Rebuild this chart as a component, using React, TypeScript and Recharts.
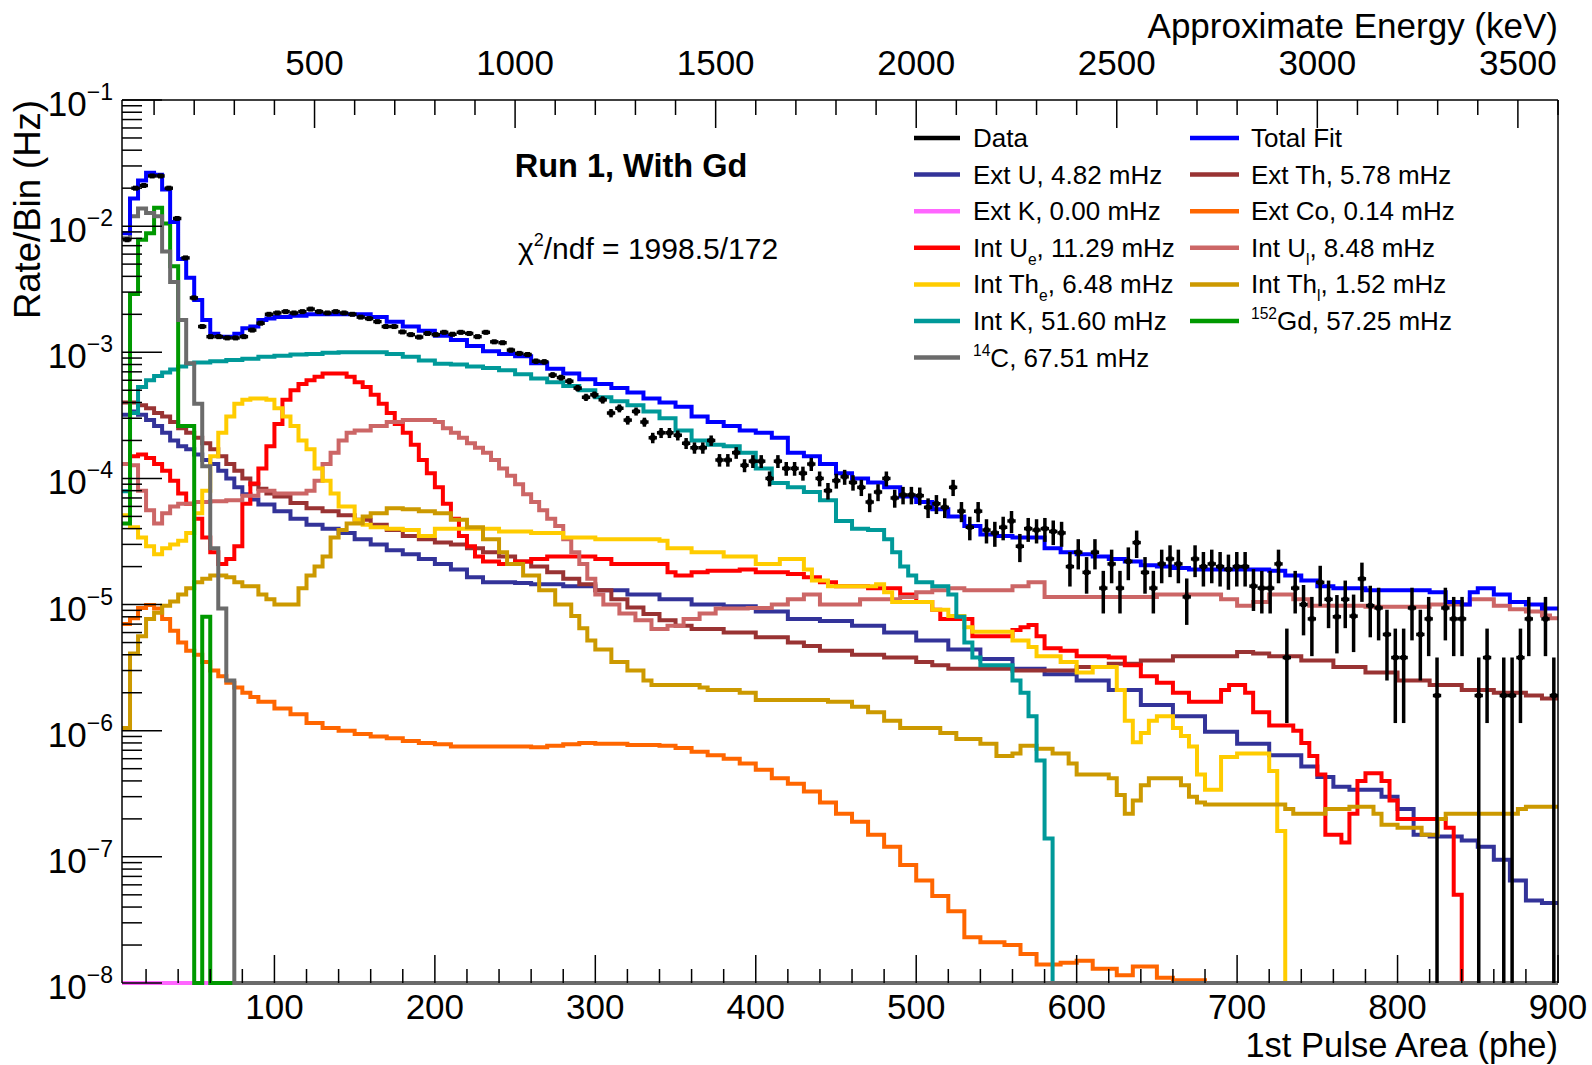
import React from 'react';
import { ComposedChart, Line, Scatter, XAxis, YAxis, ErrorBar, ReferenceLine } from 'recharts';

const FONT = '"Liberation Sans", Arial, Helvetica, sans-serif';
const W = 1592;
const H = 1065;
const FLOOR = 1e-8; // empty bins sit on the bottom of the log axis
const X_MIN = 5;
const X_MAX = 900;
const KEV_PER_PHE = 4;
// data binning: 172 bins of 5.2 phe starting at 5.6 phe
const DATA_BIN_LO = 5.6;
const DATA_BIN_W = 5.2;

// axis ticks
const PHE_LABELS = [100, 200, 300, 400, 500, 600, 700, 800, 900];
const KEV_LABELS = [500, 1000, 1500, 2000, 2500, 3000, 3500];
const RATE_DECADES = [1e-8, 1e-7, 1e-6, 1e-5, 1e-4, 1e-3, 1e-2, 1e-1];

// histogram contents, [bin start (phe), rate (Hz)]
const TOTAL_FIT: [number, number][] = [
  [5, 8.8e-3], [10, 1.66e-2], [15, 2.3e-2], [20, 2.65e-2], [25, 2.55e-2], [30, 1.95e-2], [35, 1.08e-2],
  [40, 5.5e-3], [45, 3.9e-3], [50, 2.6e-3], [55, 1.8e-3], [60, 1.4e-3], [65, 1.33e-3], [70, 1.33e-3],
  [75, 1.4e-3], [80, 1.55e-3], [85, 1.6e-3], [90, 1.8e-3], [95, 1.85e-3], [100, 1.9e-3], [110, 1.95e-3],
  [120, 2.0e-3], [150, 2.0e-3], [160, 1.9e-3], [170, 1.75e-3], [180, 1.6e-3], [190, 1.48e-3], [200, 1.35e-3],
  [210, 1.25e-3], [220, 1.12e-3], [230, 1.02e-3], [240, 9.7e-4], [250, 9.3e-4], [260, 8.2e-4], [270, 7.4e-4],
  [280, 6.8e-4], [290, 6.1e-4], [300, 5.6e-4], [310, 5.2e-4], [320, 4.8e-4], [330, 4.3e-4], [340, 4.0e-4],
  [350, 3.7e-4], [360, 3.1e-4], [370, 2.8e-4], [380, 2.6e-4], [390, 2.4e-4], [400, 2.3e-4], [410, 2.1e-4],
  [420, 1.6e-4], [430, 1.5e-4], [440, 1.3e-4], [450, 1.1e-4], [460, 1.0e-4], [470, 9.3e-5], [480, 8.5e-5],
  [490, 7.2e-5], [500, 6.5e-5], [510, 5.7e-5], [520, 5.0e-5], [530, 4.2e-5], [540, 3.6e-5], [550, 3.5e-5],
  [560, 3.4e-5], [580, 2.8e-5], [590, 2.6e-5], [600, 2.5e-5], [610, 2.4e-5], [620, 2.3e-5], [630, 2.2e-5],
  [640, 2.05e-5], [650, 2.0e-5], [660, 1.95e-5], [670, 1.9e-5], [720, 1.85e-5], [730, 1.7e-5], [740, 1.55e-5],
  [750, 1.4e-5], [760, 1.35e-5], [780, 1.3e-5], [820, 1.25e-5], [830, 1.05e-5], [840, 1.0e-5], [845, 1.25e-5],
  [850, 1.35e-5], [860, 1.2e-5], [870, 1.05e-5], [880, 1.0e-5], [890, 9.3e-6],
];

const EXT_U: [number, number][] = [
  [5, 3.2e-4], [10, 3.4e-4], [15, 3.2e-4], [20, 2.9e-4], [25, 2.6e-4], [30, 2.3e-4], [35, 2.0e-4], [40, 1.8e-4],
  [45, 1.7e-4], [50, 1.55e-4], [55, 1.4e-4], [60, 1.3e-4], [65, 1.15e-4], [70, 1.0e-4], [75, 8.5e-5], [80, 7.5e-5],
  [85, 6.8e-5], [90, 6.2e-5], [100, 5.5e-5], [110, 4.8e-5], [120, 4.3e-5], [130, 4.0e-5], [140, 3.7e-5],
  [150, 3.3e-5], [160, 3.0e-5], [170, 2.7e-5], [180, 2.5e-5], [190, 2.3e-5], [200, 2.1e-5], [210, 1.9e-5],
  [220, 1.65e-5], [230, 1.5e-5], [250, 1.48e-5], [260, 1.45e-5], [280, 1.4e-5], [300, 1.3e-5], [320, 1.2e-5],
  [340, 1.1e-5], [360, 1.0e-5], [380, 9.7e-6], [400, 8.8e-6], [420, 7.7e-6], [440, 7.4e-6], [460, 6.8e-6],
  [480, 6.0e-6], [500, 5.2e-6], [520, 4.4e-6], [540, 3.7e-6], [560, 3.1e-6], [580, 2.8e-6], [600, 2.5e-6],
  [620, 2.1e-6], [640, 1.6e-6], [660, 1.3e-6], [680, 9.8e-7], [700, 7.9e-7], [720, 6.4e-7], [740, 5.2e-7],
  [750, 4.3e-7], [760, 3.6e-7], [770, 3.4e-7], [790, 3.0e-7], [800, 2.4e-7], [810, 1.5e-7], [820, 1.45e-7],
  [840, 1.35e-7], [850, 1.2e-7], [860, 9.5e-8], [870, 6.5e-8], [880, 4.5e-8], [890, 4.3e-8],
];

const EXT_TH: [number, number][] = [
  [5, 4.0e-4], [15, 3.8e-4], [20, 3.6e-4], [25, 3.3e-4], [30, 3.1e-4], [35, 2.8e-4], [40, 2.5e-4], [45, 2.3e-4],
  [50, 2.1e-4], [55, 1.9e-4], [60, 1.7e-4], [65, 1.5e-4], [70, 1.3e-4], [75, 1.15e-4], [80, 1.0e-4], [85, 9.0e-5],
  [90, 8.3e-5], [95, 7.6e-5], [100, 7.2e-5], [110, 6.4e-5], [120, 5.8e-5], [130, 5.5e-5], [140, 5.1e-5],
  [150, 4.7e-5], [160, 4.3e-5], [170, 3.9e-5], [180, 3.5e-5], [190, 3.3e-5], [200, 3.1e-5], [210, 3.0e-5],
  [220, 2.8e-5], [230, 2.6e-5], [240, 2.4e-5], [250, 2.2e-5], [260, 2.0e-5], [270, 1.8e-5], [280, 1.6e-5],
  [290, 1.45e-5], [300, 1.3e-5], [310, 1.1e-5], [320, 9.5e-6], [330, 8.4e-6], [340, 7.5e-6], [350, 6.8e-6],
  [360, 6.4e-6], [380, 6.0e-6], [400, 5.5e-6], [420, 5.0e-6], [430, 4.7e-6], [440, 4.3e-6], [460, 4.0e-6],
  [480, 3.8e-6], [500, 3.5e-6], [510, 3.3e-6], [520, 3.1e-6], [560, 3.0e-6], [600, 3.2e-6], [620, 3.4e-6],
  [640, 3.6e-6], [660, 3.9e-6], [700, 4.2e-6], [710, 4.1e-6], [720, 3.9e-6], [740, 3.6e-6], [760, 3.2e-6],
  [780, 2.9e-6], [800, 2.5e-6], [820, 2.3e-6], [840, 2.1e-6], [860, 2.0e-6], [880, 1.9e-6], [890, 1.8e-6],
];

const EXT_K: [number, number][] = [[5, FLOOR]];

const EXT_CO: [number, number][] = [
  [5, 7.0e-6], [10, 7.8e-6], [15, 9.4e-6], [20, 9.9e-6], [25, 9.3e-6], [30, 7.7e-6], [35, 6.2e-6], [40, 5.0e-6],
  [45, 4.3e-6], [50, 4.0e-6], [55, 3.5e-6], [60, 3.0e-6], [65, 2.7e-6], [70, 2.4e-6], [75, 2.2e-6], [80, 2.0e-6],
  [85, 1.85e-6], [90, 1.7e-6], [100, 1.5e-6], [110, 1.35e-6], [120, 1.15e-6], [130, 1.05e-6], [140, 1.0e-6],
  [150, 9.4e-7], [160, 9.0e-7], [170, 8.7e-7], [180, 8.3e-7], [190, 8.0e-7], [200, 7.8e-7], [210, 7.5e-7],
  [260, 7.4e-7], [270, 7.6e-7], [280, 7.8e-7], [290, 8.0e-7], [300, 7.9e-7], [320, 7.7e-7], [340, 7.6e-7],
  [350, 7.3e-7], [360, 6.8e-7], [370, 6.4e-7], [380, 6.0e-7], [390, 5.5e-7], [400, 4.9e-7], [410, 4.2e-7],
  [420, 3.8e-7], [430, 3.3e-7], [440, 2.7e-7], [450, 2.2e-7], [460, 1.9e-7], [470, 1.5e-7], [480, 1.2e-7],
  [490, 8.6e-8], [500, 6.5e-8], [510, 4.9e-8], [520, 3.7e-8], [530, 2.3e-8], [540, 2.1e-8], [555, 2.0e-8],
  [565, 1.7e-8], [575, 1.4e-8], [590, 1.45e-8], [600, 1.5e-8], [610, 1.3e-8], [625, 1.15e-8], [635, 1.35e-8],
  [650, 1.1e-8], [660, 1.05e-8], [680, 1.0e-8], [690, FLOOR],
];

const INT_U_E: [number, number][] = [
  [5, 1.3e-4], [10, 1.5e-4], [15, 1.55e-4], [20, 1.45e-4], [25, 1.3e-4], [30, 1.15e-4], [35, 9.6e-5], [40, 7.6e-5],
  [45, 6.3e-5], [50, 4.8e-5], [55, 3.4e-5], [60, 2.6e-5], [65, 2.1e-5], [70, 2.3e-5], [75, 2.9e-5], [80, 6.3e-5],
  [85, 9.1e-5], [90, 1.2e-4], [95, 1.8e-4], [100, 2.7e-4], [105, 4.2e-4], [110, 5.0e-4], [115, 5.6e-4],
  [120, 6.0e-4], [125, 6.4e-4], [130, 6.8e-4], [145, 6.4e-4], [150, 5.8e-4], [155, 5.3e-4], [160, 4.6e-4],
  [165, 3.9e-4], [170, 3.3e-4], [175, 2.7e-4], [180, 2.3e-4], [185, 1.85e-4], [190, 1.4e-4], [195, 1.1e-4],
  [200, 8.5e-5], [205, 6.3e-5], [210, 4.8e-5], [215, 3.5e-5], [220, 2.9e-5], [225, 2.4e-5], [230, 2.2e-5],
  [240, 2.1e-5], [250, 2.2e-5], [260, 2.3e-5], [270, 2.4e-5], [300, 2.3e-5], [310, 2.1e-5], [345, 1.8e-5],
  [350, 1.7e-5], [360, 1.8e-5], [370, 1.85e-5], [390, 1.9e-5], [400, 1.8e-5], [420, 1.75e-5], [430, 1.65e-5],
  [440, 1.5e-5], [450, 1.4e-5], [470, 1.35e-5], [490, 1.2e-5], [500, 1.05e-5], [510, 9.1e-6], [515, 7.7e-6],
  [535, 5.6e-6], [560, 6.3e-6], [565, 6.6e-6], [570, 6.9e-6], [575, 5.6e-6], [580, 4.5e-6], [590, 4.3e-6],
  [600, 3.9e-6], [620, 3.8e-6], [630, 3.3e-6], [640, 2.7e-6], [650, 2.4e-6], [660, 2.0e-6], [670, 1.7e-6],
  [690, 2.1e-6], [695, 2.3e-6], [705, 2.0e-6], [710, 1.4e-6], [720, 1.1e-6], [735, 1.0e-6], [740, 8.0e-7],
  [745, 6.3e-7], [750, 4.5e-7], [755, 1.5e-7], [765, 1.3e-7], [770, 2.2e-7], [775, 4.0e-7], [780, 4.6e-7],
  [790, 4.0e-7], [795, 2.8e-7], [800, 2.0e-7], [830, 1.7e-7], [835, 5.0e-8], [840, FLOOR],
];

const INT_U_L: [number, number][] = [
  [5, 1.3e-4], [10, 1.27e-4], [15, 8.0e-5], [20, 5.6e-5], [25, 4.4e-5], [30, 5.3e-5], [35, 6.0e-5], [40, 6.3e-5],
  [50, 6.5e-5], [60, 6.6e-5], [70, 6.7e-5], [80, 7.3e-5], [90, 8.0e-5], [100, 7.6e-5], [120, 8.0e-5],
  [125, 9.6e-5], [130, 1.3e-4], [135, 1.6e-4], [140, 2.0e-4], [145, 2.3e-4], [150, 2.4e-4], [160, 2.6e-4],
  [170, 2.8e-4], [180, 2.9e-4], [200, 2.8e-4], [205, 2.5e-4], [210, 2.3e-4], [215, 2.1e-4], [220, 1.9e-4],
  [225, 1.75e-4], [230, 1.6e-4], [235, 1.4e-4], [240, 1.2e-4], [245, 1.05e-4], [250, 9.0e-5], [255, 7.5e-5],
  [260, 6.5e-5], [265, 5.6e-5], [270, 4.8e-5], [275, 4.2e-5], [280, 3.3e-5], [285, 2.6e-5], [290, 2.1e-5],
  [295, 1.6e-5], [300, 1.2e-5], [305, 1.0e-5], [315, 8.5e-6], [325, 7.5e-6], [335, 6.4e-6], [345, 6.8e-6],
  [355, 7.7e-6], [365, 8.5e-6], [375, 9.3e-6], [395, 9.4e-6], [410, 1.0e-5], [420, 1.1e-5], [430, 1.2e-5],
  [440, 1.0e-5], [465, 1.1e-5], [490, 1.15e-5], [500, 1.25e-5], [510, 1.3e-5], [520, 1.35e-5], [530, 1.3e-5],
  [560, 1.4e-5], [570, 1.5e-5], [580, 1.15e-5], [650, 1.2e-5], [690, 1.1e-5], [700, 9.8e-6], [710, 1.05e-5],
  [720, 1.2e-5], [735, 1.1e-5], [745, 9.8e-6], [780, 9.6e-6], [820, 1.0e-5], [845, 1.1e-5], [860, 9.8e-6],
  [870, 9.2e-6], [880, 8.8e-6], [890, 8.2e-6], [895, 7.8e-6],
];

const INT_TH_E: [number, number][] = [
  [5, 5.1e-5], [10, 4.1e-5], [15, 3.4e-5], [20, 2.9e-5], [25, 2.5e-5], [30, 2.8e-5], [35, 3.0e-5], [40, 3.2e-5],
  [45, 3.7e-5], [50, 5.3e-5], [55, 8.0e-5], [60, 1.5e-4], [65, 2.3e-4], [70, 3.1e-4], [75, 3.9e-4], [80, 4.2e-4],
  [85, 4.3e-4], [95, 4.2e-4], [100, 3.6e-4], [105, 3.1e-4], [110, 2.6e-4], [115, 2.0e-4], [120, 1.7e-4],
  [125, 1.2e-4], [130, 9.6e-5], [135, 7.6e-5], [140, 6.0e-5], [150, 4.7e-5], [155, 4.3e-5], [160, 4.1e-5],
  [170, 4.0e-5], [180, 3.9e-5], [190, 3.5e-5], [200, 4.0e-5], [240, 3.8e-5], [260, 3.7e-5], [280, 3.4e-5],
  [300, 3.3e-5], [340, 3.2e-5], [345, 2.8e-5], [360, 2.6e-5], [380, 2.4e-5], [400, 2.1e-5], [415, 2.3e-5],
  [430, 1.9e-5], [435, 1.55e-5], [445, 1.4e-5], [475, 1.45e-5], [480, 1.25e-5], [485, 1.05e-5], [510, 9.1e-6],
  [520, 8.1e-6], [530, 6.6e-6], [535, 6.1e-6], [560, 5.2e-6], [570, 4.6e-6], [575, 3.9e-6], [590, 3.5e-6],
  [600, 2.9e-6], [610, 3.2e-6], [625, 2.1e-6], [630, 1.2e-6], [635, 8.1e-7], [640, 9.6e-7], [645, 1.2e-6],
  [650, 1.3e-6], [660, 1.05e-6], [665, 9.1e-7], [670, 7.5e-7], [675, 4.5e-7], [680, 3.4e-7], [690, 6.2e-7],
  [700, 6.6e-7], [720, 4.8e-7], [725, 1.6e-7], [730, FLOOR],
];

const INT_TH_L: [number, number][] = [
  [5, 1.05e-6], [10, 4.1e-6], [15, 5.6e-6], [20, 7.7e-6], [25, 8.6e-6], [30, 9.8e-6], [35, 1.06e-5], [40, 1.2e-5],
  [45, 1.35e-5], [50, 1.5e-5], [55, 1.6e-5], [60, 1.7e-5], [70, 1.65e-5], [75, 1.5e-5], [80, 1.4e-5], [90, 1.2e-5],
  [95, 1.1e-5], [100, 1.0e-5], [115, 1.35e-5], [120, 1.7e-5], [125, 2.0e-5], [130, 2.4e-5], [135, 3.4e-5],
  [140, 3.9e-5], [145, 4.4e-5], [155, 5.0e-5], [160, 5.3e-5], [170, 5.8e-5], [180, 5.7e-5], [190, 5.5e-5],
  [200, 5.3e-5], [210, 4.7e-5], [220, 4.1e-5], [230, 3.3e-5], [240, 2.6e-5], [245, 2.1e-5], [255, 1.7e-5],
  [265, 1.3e-5], [275, 1.0e-5], [285, 8.1e-6], [290, 6.5e-6], [295, 5.2e-6], [300, 4.4e-6], [310, 3.5e-6],
  [320, 3.0e-6], [330, 2.5e-6], [335, 2.3e-6], [365, 2.2e-6], [370, 2.1e-6], [390, 2.0e-6], [400, 1.75e-6],
  [445, 1.7e-6], [460, 1.55e-6], [470, 1.4e-6], [480, 1.2e-6], [490, 1.05e-6], [515, 9.6e-7], [525, 8.6e-7],
  [540, 7.9e-7], [550, 6.3e-7], [560, 6.6e-7], [565, 7.6e-7], [575, 7.2e-7], [585, 6.6e-7], [595, 5.5e-7],
  [600, 4.5e-7], [620, 4.2e-7], [625, 3.1e-7], [630, 2.2e-7], [635, 2.8e-7], [640, 3.7e-7], [645, 4.2e-7],
  [665, 3.7e-7], [670, 3.0e-7], [675, 2.7e-7], [680, 2.6e-7], [730, 2.4e-7], [735, 2.2e-7], [755, 2.4e-7],
  [770, 2.5e-7], [785, 2.2e-7], [790, 1.8e-7], [800, 1.7e-7], [815, 1.5e-7], [825, 2.0e-7], [830, 2.2e-7],
  [875, 2.4e-7], [880, 2.5e-7],
];

const INT_K: [number, number][] = [
  [5, 7.9e-5], [10, 3.3e-4], [15, 5.3e-4], [20, 6.0e-4], [25, 6.5e-4], [30, 6.9e-4], [35, 7.3e-4], [40, 7.7e-4],
  [45, 8.1e-4], [50, 8.3e-4], [60, 8.5e-4], [70, 8.7e-4], [80, 8.9e-4], [90, 9.2e-4], [100, 9.4e-4], [110, 9.6e-4],
  [120, 9.7e-4], [130, 9.9e-4], [140, 1.0e-3], [170, 9.7e-4], [180, 9.2e-4], [190, 8.6e-4], [200, 8.1e-4],
  [210, 8.0e-4], [220, 7.7e-4], [230, 7.5e-4], [240, 7.2e-4], [250, 6.7e-4], [260, 6.2e-4], [270, 5.8e-4],
  [280, 5.4e-4], [290, 5.0e-4], [300, 4.4e-4], [310, 4.1e-4], [320, 3.8e-4], [330, 3.4e-4], [340, 3.0e-4],
  [350, 2.4e-4], [360, 2.0e-4], [370, 1.85e-4], [380, 1.8e-4], [390, 1.6e-4], [400, 1.2e-4], [410, 9.2e-5],
  [420, 8.5e-5], [430, 7.8e-5], [440, 6.7e-5], [450, 4.6e-5], [460, 4.0e-5], [470, 3.9e-5], [480, 3.3e-5],
  [485, 2.6e-5], [490, 2.0e-5], [495, 1.7e-5], [500, 1.5e-5], [510, 1.4e-5], [520, 1.2e-5], [525, 8.0e-6],
  [530, 5.0e-6], [535, 3.8e-6], [540, 3.3e-6], [560, 2.5e-6], [565, 2.0e-6], [570, 1.3e-6], [575, 5.8e-7],
  [580, 1.4e-7], [585, FLOOR],
];

const GD152: [number, number][] = [
  [5, 4.4e-5], [10, 2.9e-3], [15, 7.8e-3], [20, 8.8e-3], [25, 1.4e-2], [30, 1.05e-2], [35, 4.8e-3], [40, 2.6e-4],
  [50, FLOOR], [55, 8.0e-6], [60, FLOOR],
];

const C14: [number, number][] = [
  [5, 8.0e-3], [10, 1.2e-2], [15, 1.38e-2], [20, 1.27e-2], [25, 1.2e-2], [30, 6.3e-3], [35, 3.6e-3], [40, 1.8e-3],
  [45, 8.2e-4], [50, 3.9e-4], [55, 1.25e-4], [60, 2.8e-5], [65, 9.3e-6], [70, 2.5e-6], [75, FLOOR],
];

// data: [bin index, rate (Hz), stat. error (Hz)]; empty bins are not drawn
const DATA: [number, number, number][] = [
  [0, 7.8e-3, 1.2e-4], [1, 2.0e-2, 1.93e-4], [2, 2.1e-2, 1.98e-4], [3, 2.5e-2, 2.16e-4], [4, 2.5e-2, 2.16e-4],
  [5, 2.0e-2, 1.93e-4], [6, 1.15e-2, 1.46e-4], [7, 5.6e-3, 1.02e-4], [8, 2.7e-3, 7.1e-5], [9, 1.6e-3, 5.5e-5],
  [10, 1.33e-3, 5e-5], [11, 1.33e-3, 5e-5], [12, 1.3e-3, 4.9e-5], [13, 1.3e-3, 4.9e-5], [14, 1.33e-3, 5e-5],
  [15, 1.5e-3, 5.3e-5], [16, 1.7e-3, 5.6e-5], [17, 2.0e-3, 6.1e-5], [18, 2.05e-3, 6.2e-5], [19, 2.1e-3, 6.25e-5],
  [20, 2.05e-3, 6.2e-5], [21, 2.1e-3, 6.25e-5], [22, 2.2e-3, 6.4e-5], [23, 2.1e-3, 6.25e-5], [24, 2.05e-3, 6.2e-5],
  [25, 2.1e-3, 6.25e-5], [26, 2.05e-3, 6.2e-5], [27, 2.0e-3, 6.1e-5], [28, 1.9e-3, 5.9e-5], [29, 1.85e-3, 5.9e-5],
  [30, 1.75e-3, 5.7e-5], [31, 1.6e-3, 5.5e-5], [32, 1.6e-3, 5.5e-5], [33, 1.45e-3, 5.2e-5], [34, 1.38e-3, 5.1e-5],
  [35, 1.32e-3, 5e-5], [36, 1.41e-3, 5.1e-5], [37, 1.38e-3, 5.1e-5], [38, 1.44e-3, 5.2e-5], [39, 1.39e-3, 5.1e-5],
  [40, 1.44e-3, 5.2e-5], [41, 1.41e-3, 5.1e-5], [42, 1.33e-3, 5e-5], [43, 1.44e-3, 5.2e-5], [44, 1.21e-3, 4.7e-5],
  [45, 1.19e-3, 4.7e-5], [46, 1.04e-3, 4.4e-5], [47, 9.8e-4, 4.3e-5], [48, 9.6e-4, 4.2e-5], [49, 8.5e-4, 4e-5],
  [50, 8.4e-4, 4e-5], [51, 6.6e-4, 3.5e-5], [52, 6.3e-4, 3.4e-5], [53, 5.9e-4, 3.3e-5], [54, 5.2e-4, 3.1e-5],
  [55, 4.4e-4, 2.9e-5], [56, 4.6e-4, 2.9e-5], [57, 4.2e-4, 2.8e-5], [58, 3.3e-4, 2.5e-5], [59, 3.6e-4, 2.6e-5],
  [60, 2.9e-4, 2.3e-5], [61, 3.4e-4, 2.5e-5], [62, 2.8e-4, 2.3e-5], [63, 2.1e-4, 2e-5], [64, 2.3e-4, 2.1e-5],
  [65, 2.3e-4, 2.1e-5], [66, 2.2e-4, 2e-5], [67, 1.9e-4, 1.9e-5], [68, 1.75e-4, 1.8e-5], [69, 1.75e-4, 1.8e-5],
  [70, 2.0e-4, 1.9e-5], [71, 1.4e-4, 1.6e-5], [72, 1.4e-4, 1.6e-5], [73, 1.6e-4, 1.7e-5], [74, 1.27e-4, 1.5e-5],
  [75, 1.37e-4, 1.6e-5], [76, 1.37e-4, 1.6e-5], [77, 1.0e-4, 1.35e-5], [78, 1.37e-4, 1.6e-5], [79, 1.2e-4, 1.5e-5],
  [80, 1.2e-4, 1.5e-5], [81, 1.1e-4, 1.4e-5], [82, 1.3e-4, 1.55e-5], [83, 1.0e-4, 1.35e-5], [84, 8.0e-5, 1.2e-5],
  [85, 9.6e-5, 1.3e-5], [86, 1.03e-4, 1.4e-5], [87, 9.3e-5, 1.3e-5], [88, 8.5e-5, 1.25e-5], [89, 6.5e-5, 1.1e-5],
  [90, 7.8e-5, 1.2e-5], [91, 1.0e-4, 1.35e-5], [92, 7.0e-5, 1.14e-5], [93, 7.4e-5, 1.17e-5], [94, 7.4e-5, 1.17e-5],
  [95, 7.3e-5, 1.17e-5], [96, 5.9e-5, 1.05e-5], [97, 6.3e-5, 1.08e-5], [98, 5.9e-5, 1.05e-5], [99, 8.5e-5, 1.25e-5],
  [100, 5.5e-5, 1.0e-5], [101, 4.1e-5, 8.7e-6], [102, 5.5e-5, 1.0e-5], [103, 3.9e-5, 8.5e-6], [104, 3.7e-5, 8.3e-6],
  [105, 4.1e-5, 8.7e-6], [106, 4.6e-5, 9.2e-6], [107, 2.9e-5, 7.3e-6], [108, 4.0e-5, 8.6e-6], [109, 3.9e-5, 8.5e-6],
  [110, 4.0e-5, 8.6e-6], [111, 3.8e-5, 8.4e-6], [112, 3.7e-5, 8.3e-6], [113, 2.0e-5, 6.1e-6], [114, 2.6e-5, 7e-6],
  [115, 1.8e-5, 5.8e-6], [116, 2.6e-5, 7e-6], [117, 1.35e-5, 5e-6], [118, 2.1e-5, 6.25e-6], [119, 1.35e-5, 5e-6],
  [120, 2.2e-5, 6.4e-6], [121, 3.1e-5, 7.6e-6], [122, 1.8e-5, 5.8e-6], [123, 1.35e-5, 5e-6], [124, 2.1e-5, 6.25e-6],
  [125, 2.3e-5, 6.5e-6], [126, 2.1e-5, 6.25e-6], [127, 1.15e-5, 4.6e-6], [128, 2.3e-5, 6.5e-6], [129, 2.0e-5, 6.1e-6],
  [130, 2.1e-5, 6.25e-6], [131, 2.0e-5, 6.1e-6], [132, 1.9e-5, 5.9e-6], [133, 2.0e-5, 6.1e-6], [134, 2.0e-5, 6.1e-6],
  [135, 1.4e-5, 5.1e-6], [136, 1.35e-5, 5e-6], [137, 1.35e-5, 5e-6], [138, 2.1e-5, 6.25e-6], [139, 3.8e-6, 2.65e-6],
  [140, 1.35e-5, 5e-6], [141, 1.0e-5, 4.3e-6], [142, 7.7e-6, 3.8e-6], [143, 1.5e-5, 5.3e-6], [144, 1.1e-5, 4.5e-6],
  [145, 8.0e-6, 3.9e-6], [146, 1.1e-5, 4.5e-6], [147, 8.1e-6, 3.9e-6], [148, 1.6e-5, 5.5e-6], [149, 9.8e-6, 4.3e-6],
  [150, 9.4e-6, 4.2e-6], [151, 5.8e-6, 3.3e-6], [152, 3.8e-6, 2.65e-6], [153, 3.8e-6, 2.65e-6], [154, 9.4e-6, 4.2e-6],
  [155, 5.8e-6, 3.3e-6], [156, 7.7e-6, 3.8e-6], [157, 1.9e-6, 1.9e-6], [158, 9.4e-6, 4.2e-6], [159, 7.7e-6, 3.8e-6],
  [160, 7.7e-6, 3.8e-6], [162, 1.9e-6, 1.9e-6], [163, 3.8e-6, 2.65e-6], [165, 1.9e-6, 1.9e-6], [166, 1.9e-6, 1.9e-6],
  [167, 3.8e-6, 2.65e-6], [168, 7.7e-6, 3.8e-6], [170, 7.7e-6, 3.8e-6], [171, 1.9e-6, 1.9e-6],
];

type Part = { t: string; s?: 'sub' | 'sup' };

const SERIES: { id: string; color: string; bins: [number, number][]; label: Part[] }[] = [
  { id: 'extU', color: '#333399', bins: EXT_U, label: [{ t: 'Ext U, 4.82 mHz' }] },
  { id: 'extTh', color: '#993333', bins: EXT_TH, label: [{ t: 'Ext Th, 5.78 mHz' }] },
  { id: 'extK', color: '#ff66ff', bins: EXT_K, label: [{ t: 'Ext K, 0.00 mHz' }] },
  { id: 'extCo', color: '#ff6600', bins: EXT_CO, label: [{ t: 'Ext Co, 0.14 mHz' }] },
  { id: 'intUe', color: '#ff0000', bins: INT_U_E, label: [{ t: 'Int U' }, { t: 'e', s: 'sub' }, { t: ', 11.29 mHz' }] },
  { id: 'intUl', color: '#cc6666', bins: INT_U_L, label: [{ t: 'Int U' }, { t: 'l', s: 'sub' }, { t: ', 8.48 mHz' }] },
  { id: 'intThe', color: '#ffcc00', bins: INT_TH_E, label: [{ t: 'Int Th' }, { t: 'e', s: 'sub' }, { t: ', 6.48 mHz' }] },
  { id: 'intThl', color: '#cc9900', bins: INT_TH_L, label: [{ t: 'Int Th' }, { t: 'l', s: 'sub' }, { t: ', 1.52 mHz' }] },
  { id: 'intK', color: '#009999', bins: INT_K, label: [{ t: 'Int K, 51.60 mHz' }] },
  { id: 'gd', color: '#009900', bins: GD152, label: [{ t: '152', s: 'sup' }, { t: 'Gd, 57.25 mHz' }] },
  { id: 'c14', color: '#6b6b6b', bins: C14, label: [{ t: '14', s: 'sup' }, { t: 'C, 67.51 mHz' }] },
  { id: 'total', color: '#0000ff', bins: TOTAL_FIT, label: [{ t: 'Total Fit' }] },
];

const byId = (id: string) => SERIES.find((s) => s.id === id)!;

// legend layout, two columns like the ROOT TLegend
const LEGEND_ROWS: ({ color: string; label: Part[] } | null)[][] = [
  [{ color: '#000000', label: [{ t: 'Data' }] }, byId('total')],
  [byId('extU'), byId('extTh')],
  [byId('extK'), byId('extCo')],
  [byId('intUe'), byId('intUl')],
  [byId('intThe'), byId('intThl')],
  [byId('intK'), byId('gd')],
  [byId('c14'), null],
];

const toSteps = (bins: [number, number][]) => {
  const pts = bins.map(([x, y]) => ({ x, y }));
  pts.push({ x: X_MAX, y: bins[bins.length - 1][1] });
  return pts;
};

const dataPoints = DATA.map(([k, y, e]) => ({
  x: DATA_BIN_LO + DATA_BIN_W * (k + 0.5),
  y,
  ey: [Math.min(e, y - FLOOR * 1.001), e],
  ex: DATA_BIN_W / 2,
}));

// invisible span that gives the energy axis its extent
const kevSpan = [
  { x: X_MIN * KEV_PER_PHE, y: FLOOR },
  { x: X_MAX * KEV_PER_PHE, y: FLOOR },
];

const range = (from: number, to: number, step: number) => {
  const out: number[] = [];
  for (let v = from; v <= to + 1e-9; v += step) out.push(v);
  return out;
};

const PHE_TICKS = range(20, X_MAX, 20);
const KEV_TICKS = range(100, X_MAX * KEV_PER_PHE, 100);
const RATE_TICKS = RATE_DECADES.flatMap((d, i) =>
  i === RATE_DECADES.length - 1 ? [d] : [1, 2, 3, 4, 5, 6, 7, 8, 9].map((k) => k * d)
);

const isDecade = (v: number) => Math.abs(Math.log10(v) - Math.round(Math.log10(v))) < 1e-6;

const PheTick = ({ x, y, payload }: any) => {
  const major = PHE_LABELS.includes(payload.value);
  return (
    <g>
      <line x1={x} x2={x} y1={y} y2={y - (major ? 28 : 14)} stroke="#000" strokeWidth={1.5} />
      {major && (
        <text x={x} y={y + 36} textAnchor="middle" fontSize={35} fontFamily={FONT} fill="#000">
          {payload.value}
        </text>
      )}
    </g>
  );
};

const KevTick = ({ x, y, payload }: any) => {
  const major = KEV_LABELS.includes(payload.value);
  return (
    <g>
      <line x1={x} x2={x} y1={y} y2={y + (major ? 28 : 15)} stroke="#000" strokeWidth={1.5} />
      {major && (
        <text x={x} y={y - 25} textAnchor="middle" fontSize={35} fontFamily={FONT} fill="#000">
          {payload.value}
        </text>
      )}
    </g>
  );
};

const RateTick = ({ x, y, payload }: any) => {
  const major = isDecade(payload.value);
  const exp = Math.round(Math.log10(payload.value));
  return (
    <g>
      <line x1={x} x2={x + (major ? 40 : 20)} y1={y} y2={y} stroke="#000" strokeWidth={1.5} />
      {major && (
        <text x={x - 9} y={y + 16} textAnchor="end" fontSize={35} fontFamily={FONT} fill="#000">
          10
          <tspan dy={-16} fontSize={23}>
            {exp < 0 ? `\u2212${-exp}` : exp}
          </tspan>
        </text>
      )}
    </g>
  );
};

const RichText = ({ parts, size, ...rest }: { parts: Part[]; size: number; [k: string]: any }) => {
  let shift = 0;
  return (
    <text fontSize={size} fontFamily={FONT} fill="#000" {...rest}>
      {parts.map((p, i) => {
        const target = p.s === 'sub' ? size * 0.3 : p.s === 'sup' ? -size * 0.42 : 0;
        const dy = target - shift;
        shift = target;
        return (
          <tspan key={i} dy={dy} fontSize={p.s ? size * 0.6 : size}>
            {p.t}
          </tspan>
        );
      })}
    </text>
  );
};

const LEG = { top: 138, step: 36.6, cols: [{ x0: 914, x1: 960, tx: 973 }, { x0: 1190, x1: 1239, tx: 1251 }] };

const Overlay = () => (
  <svg width={W} height={H} style={{ position: 'absolute', left: 0, top: 0, pointerEvents: 'none' }}>
    <text x={1558} y={38} textAnchor="end" fontSize={35} fontFamily={FONT}>
      Approximate Energy (keV)
    </text>
    <text x={1558} y={1057} textAnchor="end" fontSize={34.5} fontFamily={FONT}>
      1st Pulse Area (phe)
    </text>
    <text transform="translate(40,100) rotate(-90)" textAnchor="end" fontSize={36.5} fontFamily={FONT}>
      Rate/Bin (Hz)
    </text>
    <text x={631} y={177} textAnchor="middle" fontSize={32.5} fontWeight="bold" fontFamily={FONT}>
      Run 1, With Gd
    </text>
    <RichText
      x={648}
      y={259}
      textAnchor="middle"
      size={30}
      parts={[{ t: '\u03c7' }, { t: '2', s: 'sup' }, { t: '/ndf = 1998.5/172' }]}
    />
    {LEGEND_ROWS.map((row, r) =>
      row.map((entry, c) => {
        if (!entry) return null;
        const col = LEG.cols[c];
        const cy = LEG.top + r * LEG.step;
        return (
          <g key={`${r}-${c}`}>
            <line x1={col.x0} x2={col.x1} y1={cy} y2={cy} stroke={entry.color} strokeWidth={4.5} />
            <RichText x={col.tx} y={cy + 9} size={26} parts={entry.label} />
          </g>
        );
      })
    )}
  </svg>
);

const axisLine = { stroke: '#000', strokeWidth: 1.5 };

export default function App() {
  return (
    <div style={{ position: 'absolute', left: 0, top: 0, width: W, height: H, background: '#fff' }}>
      <ComposedChart width={W} height={H} margin={{ top: 40, right: 34, bottom: 22, left: 12 }}>
        <XAxis
          xAxisId="phe"
          dataKey="x"
          type="number"
          domain={[X_MIN, X_MAX]}
          ticks={PHE_TICKS}
          interval={0}
          tick={(p: any) => <PheTick {...p} />}
          tickLine={false}
          tickSize={0}
          tickMargin={0}
          height={60}
          axisLine={false}
        />
        <XAxis
          xAxisId="kev"
          dataKey="x"
          orientation="top"
          type="number"
          domain={[X_MIN * KEV_PER_PHE, X_MAX * KEV_PER_PHE]}
          ticks={KEV_TICKS}
          interval={0}
          tick={(p: any) => <KevTick {...p} />}
          tickLine={false}
          tickSize={0}
          tickMargin={0}
          height={60}
          axisLine={axisLine}
        />
        <YAxis
          scale="log"
          type="number"
          domain={[RATE_DECADES[0], RATE_DECADES[RATE_DECADES.length - 1]]}
          ticks={RATE_TICKS}
          interval={0}
          tick={(p: any) => <RateTick {...p} />}
          tickLine={false}
          tickSize={0}
          tickMargin={0}
          width={110}
          axisLine={axisLine}
        />
        <Line
          xAxisId="kev"
          data={kevSpan}
          dataKey="y"
          stroke="none"
          dot={false}
          activeDot={false}
          isAnimationActive={false}
        />
        {SERIES.map((s) => (
          <Line
            key={s.id}
            xAxisId="phe"
            data={toSteps(s.bins)}
            dataKey="y"
            type="stepAfter"
            stroke={s.color}
            strokeWidth={4}
            dot={false}
            activeDot={false}
            isAnimationActive={false}
          />
        ))}
        <Scatter
          xAxisId="phe"
          data={dataPoints}
          dataKey="y"
          isAnimationActive={false}
          shape={(p: any) => <rect x={p.cx - 2.5} y={p.cy - 2.5} width={5} height={5} fill="#000" />}
        >
          <ErrorBar dataKey="ey" direction="y" width={0} stroke="#000" strokeWidth={3.5} />
          <ErrorBar dataKey="ex" direction="x" width={0} stroke="#000" strokeWidth={3.5} />
        </Scatter>
        <ReferenceLine xAxisId="kev" x={X_MAX * KEV_PER_PHE} stroke="#000" strokeWidth={1.5} />
      </ComposedChart>
      <Overlay />
    </div>
  );
}
